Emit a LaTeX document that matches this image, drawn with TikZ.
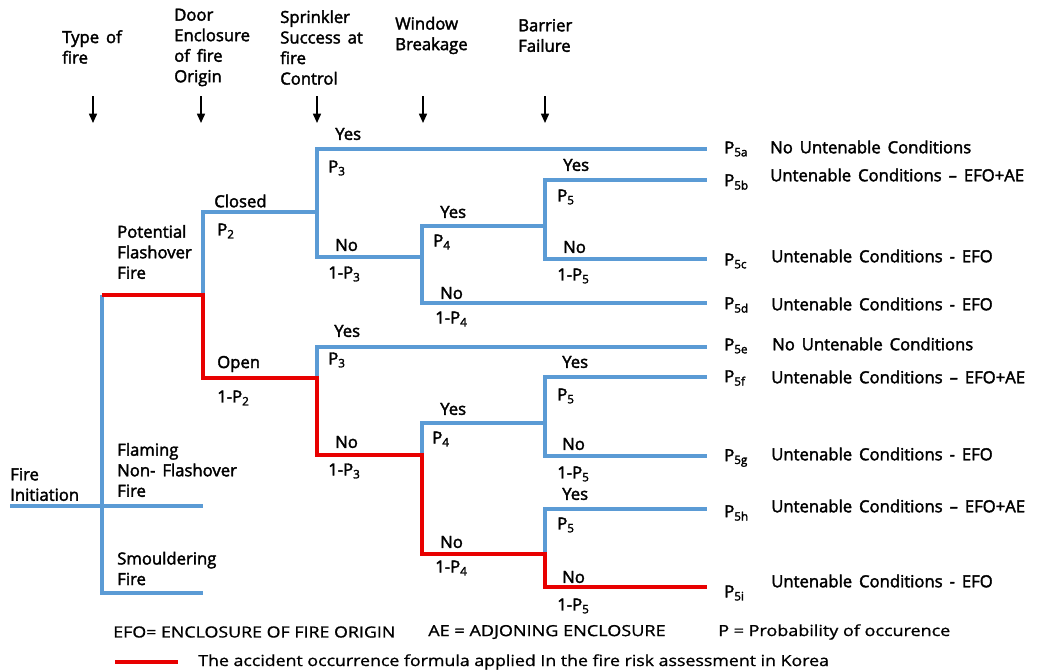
\documentclass[tikz,border=0pt]{standalone}
\usepackage{fontspec}
\usepackage{graphicx}
\setmainfont{Open Sans}
\newfontfamily\lblfont{Open Sans}[FakeBold=2.2, WordSpace=1.6]
\newfontfamily\legfont{Open Sans}[FakeBold=0.9]
\usetikzlibrary{arrows.meta}
\definecolor{tblue}{RGB}{91,155,213}
\definecolor{tred}{RGB}{232,0,0}
\newcommand{\fitw}[2]{\resizebox{#1}{\height}{#2}}
\begin{document}
\begin{tikzpicture}[x=0.75pt,y=-0.75pt,
  lbl/.style={anchor=west, inner sep=0pt, align=left, font=\lblfont\fontsize{12.5}{15.4}\selectfont},
  leg/.style={anchor=west, inner sep=0pt, font=\legfont\fontsize{11.5}{13}\selectfont},
  bl/.style={draw=tblue, line width=2.3pt, line join=miter},
  rd/.style={draw=tred, line width=2.3pt, line join=miter},
  hdarrow/.style={draw=black, line width=1.2pt, -{Triangle[length=7pt,width=6pt]}}]
\useasboundingbox[fill=white] (0,0) rectangle (1037,671);

% ---- header ----
\node[lbl] (hType) at (62,47) {Type of\\fire};
\node[lbl] (hDoor) at (174,47.5) {Door\\Enclosure\\of fire\\Origin};
\node[lbl] (hSpr) at (280,47.5) {Sprinkler\\Success at\\fire\\Control};
\node[lbl] (hWin) at (395,35.5) {Window\\Breakage};
\node[lbl] (hBar) at (518,35.5) {Barrier\\Failure};
\foreach \n/\x in {a/93,b/201,c/317,d/423,e/545}{
  \coordinate (ar\n s) at (\x,96);
  \coordinate (ar\n e) at (\x,123);
  \draw[hdarrow] (ar\n s) -- (ar\n e);
}

% ---- tree coordinates ----
\coordinate (root) at (10,506);
\coordinate (T0) at (102,295);
\coordinate (T2) at (102,593);
\coordinate (PF) at (203,295);
\coordinate (FN) at (203,506);
\coordinate (SM) at (203,593);
\coordinate (DC) at (203,212);
\coordinate (DO) at (203,378);
\coordinate (S1) at (317,212);
\coordinate (S1Y) at (317,149);
\coordinate (S1N) at (317,257);
\coordinate (S2) at (317,378);
\coordinate (S2Y) at (317,347);
\coordinate (S2N) at (317,455);
\coordinate (W1) at (422,257);
\coordinate (W1Y) at (422,226);
\coordinate (W1N) at (422,303);
\coordinate (W2) at (422,455);
\coordinate (W2Y) at (422,423);
\coordinate (W2N) at (422,554);
\coordinate (B1) at (545,226);
\coordinate (B1Y) at (545,180);
\coordinate (B1N) at (545,259);
\coordinate (B2) at (545,423);
\coordinate (B2Y) at (545,377);
\coordinate (B2N) at (545,456);
\coordinate (B3) at (545,554);
\coordinate (B3Y) at (545,509);
\coordinate (B3N) at (545,587);
\foreach \n/\y in {a/149,b/180,c/259,d/303,e/347,f/377,g/456,h/509,i/587}{
  \coordinate (E\n) at (707,\y);
}

% ---- blue branches ----
\draw[bl] (root) -- (FN);
\draw[bl] (T0) -- (T2) -- (SM);
\draw[bl] (PF) -- (DC) -- (S1);
\draw[bl] (S1) -- (S1Y) -- (Ea);
\draw[bl] (S1) -- (S1N) -- (W1);
\draw[bl] (W1) -- (W1Y) -- (B1);
\draw[bl] (W1) -- (W1N) -- (Ed);
\draw[bl] (B1) -- (B1Y) -- (Eb);
\draw[bl] (B1) -- (B1N) -- (Ec);
\draw[bl] (S2) -- (S2Y) -- (Ee);
\draw[bl] (W2) -- (W2Y) -- (B2);
\draw[bl] (B2) -- (B2Y) -- (Ef);
\draw[bl] (B2) -- (B2N) -- (Eg);
\draw[bl] (B3) -- (B3Y) -- (Eh);
% ---- red path ----
\draw[rd] (T0) -- (PF) -- (DO) -- (S2) -- (S2N) -- (W2) -- (W2N) -- (B3) -- (B3N) -- (Ei);

% ---- tree labels ----
\node[lbl] (fi) at (10,484.5) {Fire\\Initiation};
\node[lbl] (pf) at (117,252) {Potential\\Flashover\\Fire};
\node[lbl] (fl) at (117,470) {Flaming\\Non- Flashover\\Fire};
\node[lbl] (sm) at (117,568.5) {Smouldering\\Fire};
\node[lbl] (cl) at (214,201) {Closed};
\node[lbl] (p2) at (217,231) {P\textsubscript{2}};
\node[lbl] (op) at (217,364) {Open};
\node[lbl] (q2) at (217,398) {1-P\textsubscript{2}};
% sprinkler upper
\node[lbl] (y3a) at (335,134) {Yes};
\node[lbl] (p3a) at (328,168) {P\textsubscript{3}};
\node[lbl] (n3a) at (335,245) {No};
\node[lbl] (q3a) at (328,274) {1-P\textsubscript{3}};
% sprinkler lower
\node[lbl] (y3b) at (334,331) {Yes};
\node[lbl] (p3b) at (328,360) {P\textsubscript{3}};
\node[lbl] (n3b) at (335,442) {No};
\node[lbl] (q3b) at (328,471) {1-P\textsubscript{3}};
% window upper
\node[lbl] (y4a) at (440,212) {Yes};
\node[lbl] (p4a) at (433,242) {P\textsubscript{4}};
\node[lbl] (n4a) at (440,293) {No};
\node[lbl] (q4a) at (435,319) {1-P\textsubscript{4}};
% window lower
\node[lbl] (y4b) at (440,409) {Yes};
\node[lbl] (p4b) at (432,439) {P\textsubscript{4}};
\node[lbl] (n4b) at (440,542) {No};
\node[lbl] (q4b) at (435,568) {1-P\textsubscript{4}};
% barrier 1
\node[lbl] (y5a) at (563,165) {Yes};
\node[lbl] (p5a) at (557,197) {P\textsubscript{5}};
\node[lbl] (n5a) at (563,247) {No};
\node[lbl] (q5a) at (557,276) {1-P\textsubscript{5}};
% barrier 2
\node[lbl] (y5b) at (562,362) {Yes};
\node[lbl] (p5b) at (557,396) {P\textsubscript{5}};
\node[lbl] (n5b) at (562,444) {No};
\node[lbl] (q5b) at (557,474) {1-P\textsubscript{5}};
% barrier 3
\node[lbl] (y5c) at (562,494) {Yes};
\node[lbl] (p5c) at (557,525) {P\textsubscript{5}};
\node[lbl] (n5c) at (562,577) {No};
\node[lbl] (q5c) at (557,606) {1-P\textsubscript{5}};

% ---- outcome labels ----
\foreach \n/\y in {a/149,b/182,c/261,d/305,e/346,f/378,g/458,h/513,i/593}{
  \node[lbl] (P\n) at (724,\y) {P\textsubscript{5\n}};
}
\node[lbl] (oa) at (770,147) {No Untenable Conditions};
\node[lbl] (ob) at (770,175) {Untenable Conditions – EFO+AE};
\node[lbl] (oc) at (771,256) {Untenable Conditions - EFO};
\node[lbl] (od) at (771,304) {Untenable Conditions - EFO};
\node[lbl] (oe) at (772,344) {No Untenable Conditions};
\node[lbl] (of) at (771,377) {Untenable Conditions – EFO+AE};
\node[lbl] (og) at (771,454) {Untenable Conditions - EFO};
\node[lbl] (oh) at (771,506) {Untenable Conditions – EFO+AE};
\node[lbl] (oi) at (771,581) {Untenable Conditions - EFO};

% ---- legend ----
\node[leg] (l1) at (113,632) {\fitw{211.5pt}{EFO= ENCLOSURE OF FIRE ORIGIN}};
\node[leg] (l2) at (428,632) {\fitw{178pt}{AE = ADJONING ENCLOSURE}};
\node[leg] (l3) at (718,632) {\fitw{174pt}{P = Probability of occurence}};
\coordinate (lrs) at (115,662);
\coordinate (lre) at (178,662);
\draw[rd] (lrs) -- (lre);
\node[leg] (l4) at (198,662) {\fitw{473pt}{The accident occurrence formula applied In the fire risk assessment in Korea}};
\end{tikzpicture}
\end{document}
